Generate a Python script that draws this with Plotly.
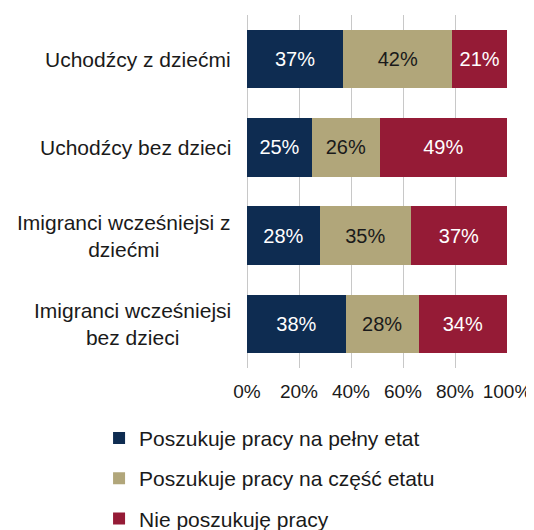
import plotly.graph_objects as go

categories = [
    "Uchodźcy z dziećmi",
    "Uchodźcy bez dzieci",
    "Imigranci wcześniejsi z<br>dziećmi",
    "Imigranci wcześniejsi<br>bez dzieci",
]
full_time = [37, 25, 28, 38]
part_time = [42, 26, 35, 28]
not_looking = [21, 49, 37, 34]

series_names = [
    "Poszukuje pracy na pełny etat",
    "Poszukuje pracy na część etatu",
    "Nie poszukuję pracy",
]
series_values = [full_time, part_time, not_looking]
colors = ["#0E2C51", "#B1A67A", "#951B36"]
text_colors = ["#FFFFFF", "#1A1A1A", "#FFFFFF"]
x_ticks = [0, 20, 40, 60, 80, 100]

FONT = "Liberation Sans, Arial, sans-serif"
FS = 21

fig = go.Figure()
for i, (name, vals) in enumerate(zip(series_names, series_values)):
    fig.add_trace(go.Bar(
        y=categories,
        x=vals,
        name=name,
        orientation="h",
        marker=dict(color=colors[i], line=dict(width=0)),
        text=[f"{v}%" for v in vals],
        textposition="inside",
        insidetextanchor="middle",
        textangle=0,
        insidetextfont=dict(family=FONT, size=20, color=text_colors[i]),
        legendgroup=f"g{i}",
        hoverinfo="skip",
    ))

for c in categories:
    fig.add_annotation(
        x=0, xref="paper", y=c, yref="y",
        text=c, showarrow=False,
        xanchor="right", align="center",
        xshift=-14,
        font=dict(family=FONT, size=FS, color="#1A1A1A"),
    )

# page body adds an 8px offset, so the figure is 8px smaller than the window
fig.update_layout(
    width=526, height=522,
    barmode="stack",
    bargap=0.335,
    paper_bgcolor="white",
    plot_bgcolor="white",
    margin=dict(l=239, r=27, t=7, b=162, autoexpand=False),
    font=dict(family=FONT, size=FS, color="#1A1A1A"),
    showlegend=True,
    legend=dict(
        orientation="v",
        x=-0.569, xanchor="left",
        y=-0.141, yanchor="top",
        font=dict(family=FONT, size=FS, color="#1A1A1A"),
        tracegroupgap=10,
        traceorder="grouped",
        bgcolor="rgba(0,0,0,0)",
    ),
    xaxis=dict(
        range=[0, 100],
        tickvals=x_ticks,
        ticktext=[f"{t}%" for t in x_ticks],
        showgrid=True,
        gridcolor="#C8C8C8",
        gridwidth=1,
        zeroline=True,
        zerolinecolor="#C8C8C8",
        zerolinewidth=1,
        showline=False,
        ticks="",
        ticklabelstandoff=10,
        automargin=False,
        tickfont=dict(family=FONT, size=19, color="#1A1A1A"),
        fixedrange=True,
    ),
    yaxis=dict(
        categoryorder="array",
        categoryarray=categories,
        autorange="reversed",
        showticklabels=False,
        showgrid=False,
        zeroline=False,
        showline=False,
        ticks="",
        automargin=False,
        fixedrange=True,
    ),
)

fig.write_html("out.html")
